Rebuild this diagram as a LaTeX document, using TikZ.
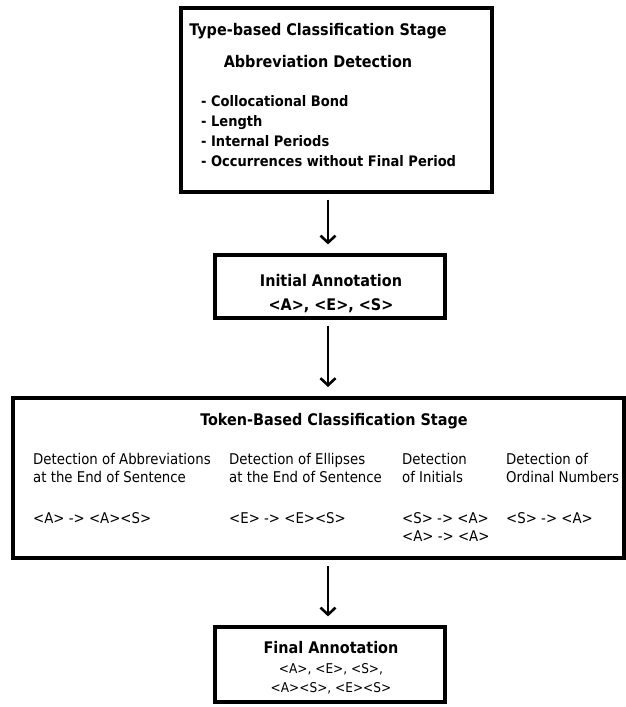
\documentclass[tikz,border=0pt]{standalone}
\usepackage{fontspec}
\setmainfont{DejaVu Sans Condensed}
\usetikzlibrary{arrows.meta}
\begin{document}
\begin{tikzpicture}[x=1pt,y=-1pt,
  box/.style={draw,line width=3.2pt,rectangle,inner sep=0pt},
  arr/.style={line width=2.6pt,-{Straight Barb[length=7pt,width=15pt,line width=2.6pt]},shorten <=6pt,shorten >=9pt},
  ttl/.style={inner sep=0pt,font=\fontsize{16}{19}\selectfont\bfseries},
  lst/.style={inner sep=0pt,anchor=base west,font=\fontsize{14.5}{17}\selectfont\bfseries},
  tok/.style={inner sep=0pt,anchor=north west,align=left,font=\fontsize{14.8}{18.5}\selectfont},
  fin/.style={inner sep=0pt,font=\fontsize{13.5}{19}\selectfont}]
\useasboundingbox (0,0) rectangle (626,707);
% boxes
\node[box,minimum width=311pt,minimum height=184pt] (b1) at (336.5,100) {};
\node[box,minimum width=230pt,minimum height=63pt] (b2) at (330,286.5) {};
\node[box,line width=4pt,minimum width=611pt,minimum height=160pt] (b3) at (318,478) {};
\node[box,minimum width=230pt,minimum height=75pt] (b4) at (330,664.5) {};
% box 1 text
\node[ttl] (t1) at (318,31) {Type-based Classification Stage};
\node[ttl] (t2) at (318,62) {Abbreviation Detection};
\node[lst] (l1) at (201,106) {- Collocational Bond};
\node[lst] (l2) at (201,126) {- Length};
\node[lst] (l3) at (201,146) {- Internal Periods};
\node[lst] (l4) at (201,166) {- Occurrences without Final Period};
% box 2 text
\node[ttl] (t3) at (331,281) {Initial Annotation};
\node[ttl] (t4) at (331,306) {<A>, <E>, <S>};
% box 3 text
\node[ttl] (t5) at (334,421) {Token-Based Classification Stage};
\node[tok] (c1) at (33,453) {Detection of Abbreviations\\at the End of Sentence};
\node[tok] (c2) at (229,453) {Detection of Ellipses\\at the End of Sentence};
\node[tok] (c3) at (402,453) {Detection\\of Initials};
\node[tok] (c4) at (506,453) {Detection of\\Ordinal Numbers};
\node[tok] (r1) at (33,512) {<A> -> <A><S>};
\node[tok] (r2) at (229,512) {<E> -> <E><S>};
\node[tok] (r3) at (402,512) {<S> -> <A>\\<A> -> <A>};
\node[tok] (r4) at (506,512) {<S> -> <A>};
% box 4 text
\node[ttl] (t6) at (331,648) {Final Annotation};
\node[fin] (f1) at (331,669) {<A>, <E>, <S>,};
\node[fin] (f2) at (331,688) {<A><S>, <E><S>};
% arrows
\draw[arr] (b1.south -| 328,0) -- (b2.north -| 328,0);
\draw[arr] (b2.south -| 328,0) -- (b3.north -| 328,0);
\draw[arr] (b3.south -| 328,0) -- (b4.north -| 328,0);
\end{tikzpicture}
\end{document}
